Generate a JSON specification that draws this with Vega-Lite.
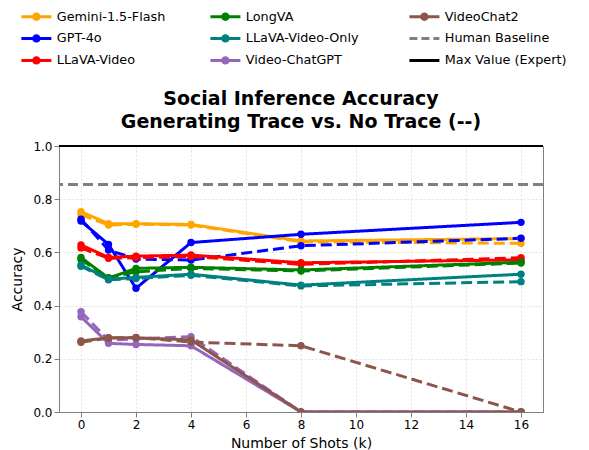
{
  "$schema": "https://vega.github.io/schema/vega-lite/v6.json",
  "autosize": {"type": "none"},
  "width": 484,
  "height": 266,
  "padding": {"left": 59, "top": 146, "right": 46, "bottom": 38},
  "background": "white",
  "config": {
    "font": "DejaVu Sans",
    "view": {"stroke": "#808080", "strokeWidth": 1},
    "axis": {
      "labelFont": "DejaVu Sans",
      "titleFont": "DejaVu Sans",
      "labelFontSize": 12,
      "titleFontSize": 14,
      "titleFontWeight": "normal",
      "labelColor": "#000",
      "titleColor": "#000",
      "domainColor": "#808080",
      "tickColor": "#808080",
      "gridColor": "#d9d9d9",
      "gridDash": [2, 2],
      "gridWidth": 0.8
    }
  },
  "title": {
    "text": ["Social Inference Accuracy", "Generating Trace vs. No Trace (--)"],
    "font": "DejaVu Sans",
    "fontSize": 19,
    "fontWeight": "bold",
    "color": "#000",
    "anchor": "middle",
    "lineHeight": 23,
    "offset": -122
  },
  "datasets": {
    "series": [
      {"model": "Gemini-1.5-Flash", "trace": "Trace", "k": 0, "acc": 0.753},
      {"model": "Gemini-1.5-Flash", "trace": "Trace", "k": 1, "acc": 0.708},
      {"model": "Gemini-1.5-Flash", "trace": "Trace", "k": 2, "acc": 0.708},
      {"model": "Gemini-1.5-Flash", "trace": "Trace", "k": 4, "acc": 0.705},
      {"model": "Gemini-1.5-Flash", "trace": "Trace", "k": 8, "acc": 0.643},
      {"model": "Gemini-1.5-Flash", "trace": "Trace", "k": 16, "acc": 0.652},
      {"model": "Gemini-1.5-Flash", "trace": "No Trace", "k": 0, "acc": 0.742},
      {"model": "Gemini-1.5-Flash", "trace": "No Trace", "k": 1, "acc": 0.703},
      {"model": "Gemini-1.5-Flash", "trace": "No Trace", "k": 2, "acc": 0.706},
      {"model": "Gemini-1.5-Flash", "trace": "No Trace", "k": 4, "acc": 0.703},
      {"model": "Gemini-1.5-Flash", "trace": "No Trace", "k": 8, "acc": 0.64},
      {"model": "Gemini-1.5-Flash", "trace": "No Trace", "k": 16, "acc": 0.634},
      {"model": "GPT-4o", "trace": "Trace", "k": 0, "acc": 0.718},
      {"model": "GPT-4o", "trace": "Trace", "k": 1, "acc": 0.63},
      {"model": "GPT-4o", "trace": "Trace", "k": 2, "acc": 0.465},
      {"model": "GPT-4o", "trace": "Trace", "k": 4, "acc": 0.637},
      {"model": "GPT-4o", "trace": "Trace", "k": 8, "acc": 0.668},
      {"model": "GPT-4o", "trace": "Trace", "k": 16, "acc": 0.713},
      {"model": "GPT-4o", "trace": "No Trace", "k": 0, "acc": 0.725},
      {"model": "GPT-4o", "trace": "No Trace", "k": 1, "acc": 0.609},
      {"model": "GPT-4o", "trace": "No Trace", "k": 2, "acc": 0.575},
      {"model": "GPT-4o", "trace": "No Trace", "k": 4, "acc": 0.571},
      {"model": "GPT-4o", "trace": "No Trace", "k": 8, "acc": 0.625},
      {"model": "GPT-4o", "trace": "No Trace", "k": 16, "acc": 0.653},
      {"model": "LLaVA-Video", "trace": "Trace", "k": 0, "acc": 0.628},
      {"model": "LLaVA-Video", "trace": "Trace", "k": 1, "acc": 0.581},
      {"model": "LLaVA-Video", "trace": "Trace", "k": 2, "acc": 0.586},
      {"model": "LLaVA-Video", "trace": "Trace", "k": 4, "acc": 0.59},
      {"model": "LLaVA-Video", "trace": "Trace", "k": 8, "acc": 0.561},
      {"model": "LLaVA-Video", "trace": "Trace", "k": 16, "acc": 0.572},
      {"model": "LLaVA-Video", "trace": "No Trace", "k": 0, "acc": 0.617},
      {"model": "LLaVA-Video", "trace": "No Trace", "k": 1, "acc": 0.578},
      {"model": "LLaVA-Video", "trace": "No Trace", "k": 2, "acc": 0.58},
      {"model": "LLaVA-Video", "trace": "No Trace", "k": 4, "acc": 0.585},
      {"model": "LLaVA-Video", "trace": "No Trace", "k": 8, "acc": 0.555},
      {"model": "LLaVA-Video", "trace": "No Trace", "k": 16, "acc": 0.58},
      {"model": "LongVA", "trace": "Trace", "k": 0, "acc": 0.581},
      {"model": "LongVA", "trace": "Trace", "k": 1, "acc": 0.503},
      {"model": "LongVA", "trace": "Trace", "k": 2, "acc": 0.54},
      {"model": "LongVA", "trace": "Trace", "k": 4, "acc": 0.544},
      {"model": "LongVA", "trace": "Trace", "k": 8, "acc": 0.534},
      {"model": "LongVA", "trace": "Trace", "k": 16, "acc": 0.563},
      {"model": "LongVA", "trace": "No Trace", "k": 0, "acc": 0.573},
      {"model": "LongVA", "trace": "No Trace", "k": 1, "acc": 0.505},
      {"model": "LongVA", "trace": "No Trace", "k": 2, "acc": 0.527},
      {"model": "LongVA", "trace": "No Trace", "k": 4, "acc": 0.54},
      {"model": "LongVA", "trace": "No Trace", "k": 8, "acc": 0.53},
      {"model": "LongVA", "trace": "No Trace", "k": 16, "acc": 0.56},
      {"model": "LLaVA-Video-Only", "trace": "Trace", "k": 0, "acc": 0.553},
      {"model": "LLaVA-Video-Only", "trace": "Trace", "k": 1, "acc": 0.499},
      {"model": "LLaVA-Video-Only", "trace": "Trace", "k": 2, "acc": 0.506},
      {"model": "LLaVA-Video-Only", "trace": "Trace", "k": 4, "acc": 0.518},
      {"model": "LLaVA-Video-Only", "trace": "Trace", "k": 8, "acc": 0.477},
      {"model": "LLaVA-Video-Only", "trace": "Trace", "k": 16, "acc": 0.518},
      {"model": "LLaVA-Video-Only", "trace": "No Trace", "k": 0, "acc": 0.548},
      {"model": "LLaVA-Video-Only", "trace": "No Trace", "k": 1, "acc": 0.497},
      {"model": "LLaVA-Video-Only", "trace": "No Trace", "k": 2, "acc": 0.502},
      {"model": "LLaVA-Video-Only", "trace": "No Trace", "k": 4, "acc": 0.514},
      {"model": "LLaVA-Video-Only", "trace": "No Trace", "k": 8, "acc": 0.474},
      {"model": "LLaVA-Video-Only", "trace": "No Trace", "k": 16, "acc": 0.49},
      {"model": "Video-ChatGPT", "trace": "Trace", "k": 0, "acc": 0.358},
      {"model": "Video-ChatGPT", "trace": "Trace", "k": 1, "acc": 0.258},
      {"model": "Video-ChatGPT", "trace": "Trace", "k": 2, "acc": 0.254},
      {"model": "Video-ChatGPT", "trace": "Trace", "k": 4, "acc": 0.249},
      {"model": "Video-ChatGPT", "trace": "Trace", "k": 8, "acc": 0.0},
      {"model": "Video-ChatGPT", "trace": "Trace", "k": 16, "acc": 0.0},
      {"model": "Video-ChatGPT", "trace": "No Trace", "k": 0, "acc": 0.377},
      {"model": "Video-ChatGPT", "trace": "No Trace", "k": 1, "acc": 0.27},
      {"model": "Video-ChatGPT", "trace": "No Trace", "k": 2, "acc": 0.275},
      {"model": "Video-ChatGPT", "trace": "No Trace", "k": 4, "acc": 0.283},
      {"model": "Video-ChatGPT", "trace": "No Trace", "k": 8, "acc": 0.0},
      {"model": "Video-ChatGPT", "trace": "No Trace", "k": 16, "acc": 0.0},
      {"model": "VideoChat2", "trace": "Trace", "k": 0, "acc": 0.267},
      {"model": "VideoChat2", "trace": "Trace", "k": 1, "acc": 0.279},
      {"model": "VideoChat2", "trace": "Trace", "k": 2, "acc": 0.279},
      {"model": "VideoChat2", "trace": "Trace", "k": 4, "acc": 0.271},
      {"model": "VideoChat2", "trace": "Trace", "k": 8, "acc": 0.0},
      {"model": "VideoChat2", "trace": "Trace", "k": 16, "acc": 0.0},
      {"model": "VideoChat2", "trace": "No Trace", "k": 0, "acc": 0.262},
      {"model": "VideoChat2", "trace": "No Trace", "k": 1, "acc": 0.278},
      {"model": "VideoChat2", "trace": "No Trace", "k": 2, "acc": 0.28},
      {"model": "VideoChat2", "trace": "No Trace", "k": 4, "acc": 0.263},
      {"model": "VideoChat2", "trace": "No Trace", "k": 8, "acc": 0.249},
      {"model": "VideoChat2", "trace": "No Trace", "k": 16, "acc": 0.0}
    ],
    "refs": [
      {"model": "Human Baseline", "acc": 0.855},
      {"model": "Max Value (Expert)", "acc": 1.0}
    ]
  },
  "layer": [
    {
      "data": {"name": "series"},
      "mark": {"type": "line", "strokeWidth": 3, "clip": true},
      "encoding": {
        "x": {"field": "k", "type": "quantitative", "scale": {"domain": [-0.8, 16.8], "nice": false, "zero": false},
          "axis": {"values": [0, 2, 4, 6, 8, 10, 12, 14, 16], "title": "Number of Shots (k)", "format": "d", "titlePadding": 6}},
        "y": {"field": "acc", "type": "quantitative", "scale": {"domain": [0, 1], "nice": false},
          "axis": {"values": [0, 0.2, 0.4, 0.6, 0.8, 1.0], "format": ".1f", "title": "Accuracy", "titlePadding": 8}},
        "color": {"field": "model", "type": "nominal",
          "scale": {
            "domain": ["Gemini-1.5-Flash", "LongVA", "VideoChat2", "GPT-4o", "LLaVA-Video-Only", "Human Baseline", "LLaVA-Video", "Video-ChatGPT", "Max Value (Expert)"],
            "range": ["#FFA500", "#008000", "#8C564B", "#0000FF", "#008080", "#808080", "#FF0000", "#9467BD", "#000000"]
          },
          "legend": {
            "title": null,
            "orient": "none",
            "legendX": -29,
            "legendY": -136,
            "columns": 3,
            "direction": "horizontal",
            "labelFont": "DejaVu Sans",
            "labelFontSize": 12.8,
            "labelColor": "#000",
            "labelOffset": 14,
            "columnPadding": 44,
            "rowPadding": 8,
            "symbolSize": 900,
            "symbolType": "M-1,-0.1L1,-0.1L1,0.1L-1,0.1Z M-0.28,0A0.28,0.28,0,1,1,0.28,0A0.28,0.28,0,1,1,-0.28,0Z",
            "encode": {
              "symbols": {
                "update": {
                  "shape": {"signal": "datum.value === 'Human Baseline' || datum.value === 'Max Value (Expert)' ? 'stroke' : 'M-1,-0.1L1,-0.1L1,0.1L-1,0.1Z M-0.28,0A0.28,0.28,0,1,1,0.28,0A0.28,0.28,0,1,1,-0.28,0Z'"},
                  "fill": {"scale": "color", "field": "value"},
                  "fillOpacity": {"value": 1},
                  "stroke": {"scale": "color", "field": "value"},
                  "strokeWidth": {"signal": "datum.value === 'Human Baseline' || datum.value === 'Max Value (Expert)' ? 3 : 0"},
                  "strokeDash": {"signal": "datum.value === 'Human Baseline' ? [8, 4] : [1, 0]"},
                  "opacity": {"value": 1}
                }
              }
            }
          }
        },
        "strokeDash": {"field": "trace", "type": "nominal", "scale": {"domain": ["Trace", "No Trace"], "range": [[1, 0], [11, 5]]}, "legend": null},
        "detail": {"field": "trace"}
      }
    },
    {
      "data": {"name": "series"},
      "mark": {"type": "point", "filled": true, "size": 55, "opacity": 1, "clip": true},
      "encoding": {
        "x": {"field": "k", "type": "quantitative"},
        "y": {"field": "acc", "type": "quantitative"},
        "color": {"field": "model", "type": "nominal"}
      }
    },
    {
      "data": {"name": "refs"},
      "transform": [{"filter": "datum.model === 'Human Baseline'"}],
      "mark": {"type": "rule", "strokeWidth": 3, "strokeDash": [10, 5]},
      "encoding": {
        "y": {"field": "acc", "type": "quantitative"},
        "color": {"field": "model", "type": "nominal"}
      }
    },
    {
      "data": {"name": "refs"},
      "transform": [{"filter": "datum.model === 'Max Value (Expert)'"}],
      "mark": {"type": "rule", "strokeWidth": 2},
      "encoding": {
        "y": {"field": "acc", "type": "quantitative"},
        "color": {"field": "model", "type": "nominal"}
      }
    }
  ]
}
